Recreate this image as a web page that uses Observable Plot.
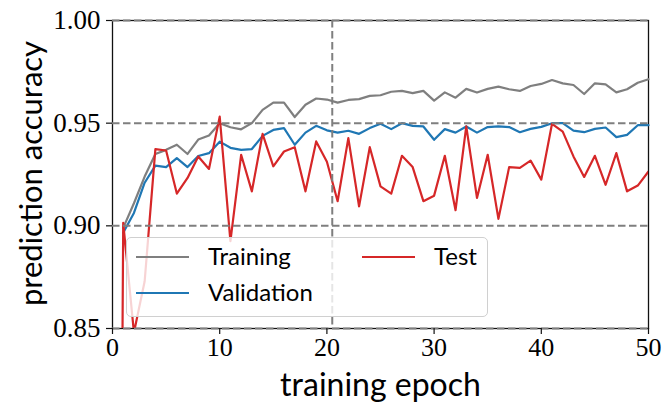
<!DOCTYPE html>
<html>
<head>
<meta charset="utf-8">
<script src="https://cdn.jsdelivr.net/npm/d3@7"></script>
<script src="https://cdn.jsdelivr.net/npm/@observablehq/plot@0.6"></script>
<style>
  html, body { margin: 0; padding: 0; background: #fff; }
  #wrap { position: relative; width: 663px; height: 408px; }
  #legend {
    position: absolute; left: 126px; top: 237px; width: 362px; height: 80px;
    box-sizing: border-box; border: 1px solid #d0d0d0; border-radius: 5px;
    background: rgba(255,255,255,0.8); font-family: Lato, sans-serif; font-size: 24px; color: #000;
  }
  .sw { position: absolute; width: 53px; height: 0; border-top: 2.2px solid; }
  .lb { position: absolute; line-height: 1; transform: translateY(-55%); }
</style>
</head>
<body>
<div id="wrap"></div>
<script>
// ---- data ----
const seriesNames = ["Training", "Validation", "Test"];
const seriesColors = ["#7f7f7f", "#1f77b4", "#d62728"];

const trainEpochs = d3.range(1, 51);
const trainAcc = [0.899, 0.911, 0.924, 0.935, 0.937, 0.9395, 0.935, 0.942, 0.944, 0.950,
  0.948, 0.947, 0.950, 0.9565, 0.960, 0.960, 0.953, 0.959, 0.962, 0.9615,
  0.960, 0.9613, 0.9617, 0.9633, 0.9636, 0.9653, 0.9657, 0.9646, 0.9657, 0.961,
  0.965, 0.9624, 0.9667, 0.9649, 0.9667, 0.9678, 0.9665, 0.9657, 0.9681, 0.9691,
  0.971, 0.9694, 0.9686, 0.9642, 0.9694, 0.9689, 0.965, 0.9665, 0.9697, 0.9714];

const valEpochs = d3.range(1, 51);
const valAcc = [0.8966, 0.9063, 0.921, 0.9293, 0.9286, 0.933, 0.9286, 0.934, 0.9354, 0.941,
  0.938, 0.937, 0.9374, 0.9438, 0.9467, 0.9476, 0.9395, 0.9454, 0.9487, 0.9465,
  0.9454, 0.9463, 0.9448, 0.9476, 0.9497, 0.9471, 0.950, 0.9487, 0.9484, 0.9419,
  0.9471, 0.9454, 0.9484, 0.9454, 0.9481, 0.9484, 0.9481, 0.9456, 0.9472, 0.9482,
  0.950, 0.950, 0.9464, 0.9456, 0.9472, 0.9479, 0.9432, 0.9443, 0.949, 0.949];

const testEpochs = d3.range(0, 51);
const testAcc = [0.1, 0.9015, 0.848, 0.873, 0.9374, 0.9367, 0.9157, 0.9233, 0.9338, 0.9277, 0.9532,
  0.8925, 0.9346, 0.9168, 0.9448, 0.929, 0.9362, 0.9383, 0.9168, 0.9411, 0.9312,
  0.912, 0.9427, 0.9095, 0.9383, 0.9192, 0.9157, 0.9341, 0.9286, 0.912, 0.9147,
  0.9341, 0.9076, 0.9484, 0.9136, 0.9346, 0.9034, 0.9286, 0.9282, 0.9318, 0.9225,
  0.9497, 0.9459, 0.9338, 0.9238, 0.9341, 0.920, 0.9354, 0.9168, 0.9196, 0.9265];

const xTicks = [0, 10, 20, 30, 40, 50];
const yTicks = [0.85, 0.90, 0.95, 1.00];
const hLines = [0.85, 0.90, 0.95, 1.00];
const vLines = [20.5];
const xLabel = "training epoch";
const yLabel = "prediction accuracy";

// ---- build ----
const rows = (ex, ys) => ex.map((e, i) => ({epoch: e, acc: ys[i]}));
const serif = "'Liberation Serif', 'DejaVu Serif', serif";
const sans = "Lato, 'Noto Sans', sans-serif";
const dash = {stroke: "#7f7f7f", strokeWidth: 2, strokeDasharray: "7.5,3.5"};

const chart = Plot.plot({
  width: 663, height: 408,
  marginLeft: 112, marginRight: 15, marginTop: 20, marginBottom: 80,
  x: {domain: [0, 50]},
  y: {domain: [0.85, 1.00]},
  marks: [
    Plot.frame({stroke: "#111", strokeWidth: 1.3}),
    Plot.line(rows(trainEpochs, trainAcc), {x: "epoch", y: "acc", stroke: seriesColors[0], strokeWidth: 2.2}),
    Plot.line(rows(valEpochs, valAcc), {x: "epoch", y: "acc", stroke: seriesColors[1], strokeWidth: 2.2}),
    Plot.line(rows(testEpochs, testAcc), {x: "epoch", y: "acc", stroke: seriesColors[2], strokeWidth: 2.2, clip: true}),
    Plot.ruleY(hLines, dash),
    Plot.ruleX(vLines, dash),
    Plot.axisX({ticks: xTicks, tickSize: 6, tickPadding: 3, fontSize: 26, fontFamily: serif, label: null, stroke: "#111", strokeWidth: 1.2}),
    Plot.axisY({ticks: yTicks, tickFormat: d3.format(".2f"), tickSize: 6, tickPadding: 6, fontSize: 27, fontFamily: serif, label: null, stroke: "#111", strokeWidth: 1.2}),
    Plot.text([xLabel], {frameAnchor: "bottom", dy: 67, fontSize: 32, fontFamily: sans, fill: "#000"}),
    Plot.text([yLabel], {frameAnchor: "left", rotate: -90, dx: -80, dy: -1, textAnchor: "middle", fontSize: 31, fontFamily: sans, fill: "#000"})
  ]
});
chart.style.color = "#000";
const wrap = document.getElementById("wrap");
wrap.appendChild(chart);

// ---- legend (inside plot area, like matplotlib) ----
const legend = document.createElement("div");
legend.id = "legend";
const items = [
  {i: 0, left: 9, top: 19},
  {i: 1, left: 9, top: 55},
  {i: 2, left: 235, top: 19}
];
for (const it of items) {
  const sw = document.createElement("div");
  sw.className = "sw";
  sw.style.left = it.left + "px";
  sw.style.top = (it.top - 1) + "px";
  sw.style.borderTopColor = seriesColors[it.i];
  legend.appendChild(sw);
  const lb = document.createElement("div");
  lb.className = "lb";
  lb.style.left = (it.left + 72) + "px";
  lb.style.top = it.top + "px";
  lb.textContent = seriesNames[it.i];
  legend.appendChild(lb);
}
wrap.appendChild(legend);
</script>
</body>
</html>
